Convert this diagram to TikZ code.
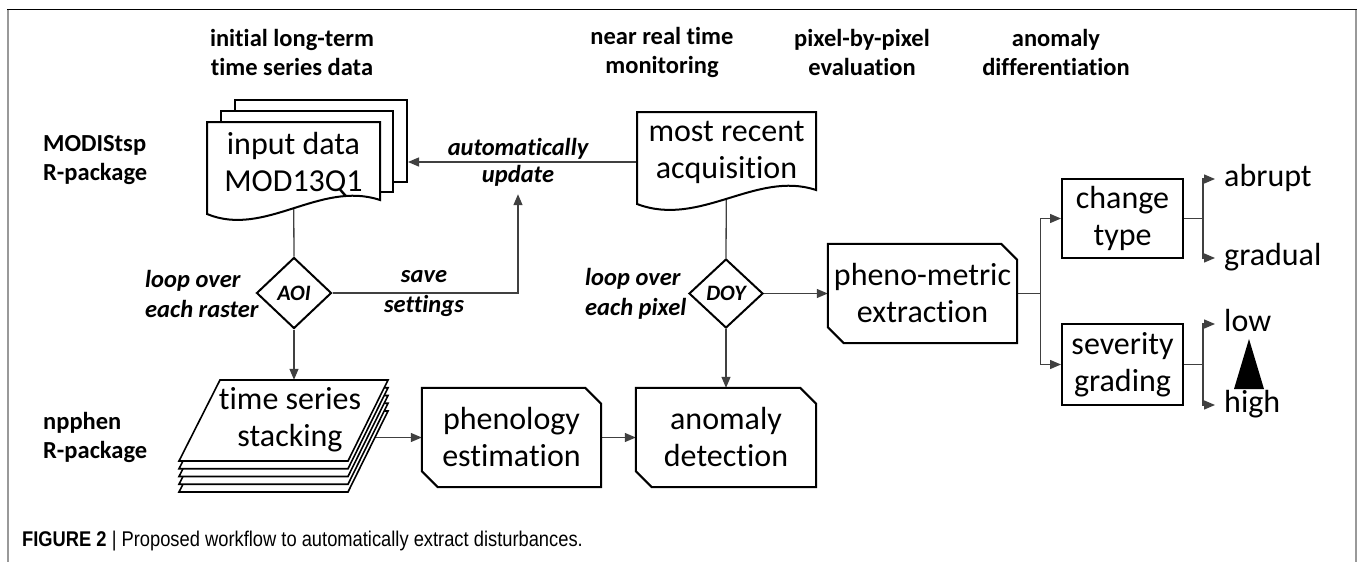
\documentclass[tikz,border=0pt]{standalone}
\usepackage{fontspec}
\setmainfont{Carlito}[Ligatures={NoCommon,NoContextual}]
\newfontfamily\capfont[FakeStretch=0.86]{Liberation Sans}
\usetikzlibrary{arrows.meta,shapes.geometric,backgrounds,positioning}

\tikzset{
  shapeline/.style={draw=black, line width=2pt},
  boxtext/.style={font=\fontsize{32}{37}\selectfont, align=center, inner sep=0pt},
  headtext/.style={font=\fontsize{24.5}{29}\selectfont\bfseries, align=center},
  looptext/.style={font=\fontsize{24.5}{30}\selectfont\bfseries\itshape, align=left, inner sep=0pt},
  decide/.style={diamond, shapeline, fill=white, inner sep=0pt,
    font=\fontsize{22}{22}\selectfont\bfseries\itshape},
  plainbox/.style={boxtext, shapeline, fill=white},
  link/.style={draw=black!75, line width=1.3pt},
  arr/.style={link, -{Triangle[length=11pt,width=9pt]}},
  outcome/.style={font=\fontsize{32}{37}\selectfont, anchor=west, text height=22pt,
    text depth=6.5pt, inner xsep=9pt, inner ysep=0pt}
}

% outline with the upper right and lower left corners cut off
\newcommand\cutframe[1]{%
  \draw[shapeline] ([xshift=-16pt]#1.north east) -- ([yshift=-16pt]#1.north east)
    -- (#1.south east) -- ([xshift=16pt]#1.south west)
    -- ([yshift=16pt]#1.south west) -- (#1.north west) -- cycle;}

\begin{document}
\begin{tikzpicture}[x=1pt, y=-1pt]
  \useasboundingbox (0,0) rectangle (1360,562);
  % panel frame
  \draw[black, line width=1.4pt] (7,9.5) -- (1357,9.5);
  \draw[black!40, line width=2pt] (8,9.5) -- (8,562);
  \draw[black!40, line width=2pt] (1356,9.5) -- (1356,562);

  % column headings
  \node[headtext] (head1) at (292,52.5) {initial long-term\\time series data};
  \node[headtext] (head2) at (662,52.5) {near real time\\monitoring};
  \node[headtext] (head3) at (862,52.5) {pixel-by-pixel\\evaluation};
  \node[headtext] (head4) at (1056,52.5) {anomaly\\differentiation};

  % package names
  \node[headtext, align=left, anchor=west, inner sep=0pt] (pkg1) at (43,160.5) {MODIStsp\\R-package};
  \node[headtext, align=left, anchor=west, inner sep=0pt] (pkg2) at (43,437) {npphen\\R-package};

  % input documents
  \node[shapeline, fill=white, minimum width=172pt, minimum height=82pt] (docC) at (321,141) {};
  \node[shapeline, fill=white, minimum width=172pt, minimum height=81pt] (docB) at (307,151.5) {};
  \draw[shapeline, fill=white] (207,122) -- (380,122) -- (380,200)
    .. controls (320,180) and (265,238) .. (207,214) -- cycle;
  \node[boxtext, minimum width=173pt, minimum height=84pt] (input) at (293.5,164) {input data\\MOD13Q1};

  % newest scene
  \draw[shapeline, fill=white] (637,112) -- (816,112) -- (816,190)
    .. controls (756,170) and (700,228) .. (637,204) -- cycle;
  \node[boxtext] (acq) at (726.5,152.5) {most recent\\acquisition};
  \node[headtext, font=\fontsize{24.5}{27}\selectfont\bfseries\itshape, inner sep=0pt] (autoupd) at (518,162) {automatically\\update};

  % loops
  \node[decide, minimum width=75pt, minimum height=71pt] (aoi) at (294,293) {AOI};
  \node[decide, minimum width=74pt, minimum height=69pt] (doy) at (726,293.5) {DOY};
  \node[looptext, anchor=west] (loop1) at (145,294) {loop over\\each raster};
  \node[looptext, anchor=west] (loop2) at (585,294) {loop over\\each pixel};
  \node[looptext, align=center] (save) at (424,294) {save\\settings};

  % raster stack
  \foreach \k in {4,3,2,1}
    \draw[shapeline, fill=white, line width=1.6pt, shift={(0,7.75*\k)}]
      (220,380) -- (388,380) -- (348,461) -- (179,461) -- cycle;
  \draw[shapeline, fill=white, line width=1.6pt]
    (220,380) -- (388,380) -- (348,461) -- (179,461) -- cycle;
  \node[boxtext, minimum height=80pt] (stack) at (290,420) {time series\\stacking};

  % processing steps
  \node[boxtext, minimum width=179pt, minimum height=99pt] (pheno) at (511.5,437.5) {phenology\\estimation};
  \node[boxtext, minimum width=180pt, minimum height=99pt] (anom) at (726,437.5) {anomaly\\detection};
  \node[boxtext, minimum width=189pt, minimum height=99pt] (metric) at (922.5,293.5) {pheno-metric\\extraction};
  \cutframe{pheno}
  \cutframe{anom}
  \cutframe{metric}

  \node[plainbox, minimum width=121pt, minimum height=79pt] (change) at (1122.5,218.5) {change\\type};
  \node[plainbox, minimum width=121pt, minimum height=81pt] (sever) at (1122.5,364.5) {severity\\grading};

  % classes
  \node[outcome] (abrupt) at (1215,179) {abrupt};
  \node[outcome] (gradual) at (1215,258) {gradual};
  \node[outcome] (low) at (1215,324) {low};
  \node[outcome] (high) at (1215,405) {high};
  \fill (1249,339) -- (1264,389) -- (1234,389) -- cycle;

  % connectors
  \begin{pgfonlayer}{background}
    \draw[link] (input.center) -- (aoi.north);
    \draw[arr] (aoi.south) -- (aoi.south |- stack.north);
    \draw[arr] (aoi.east) -| ([yshift=-8pt]autoupd.south);
    \draw[arr] (acq.center |- autoupd) -- (docC.east |- autoupd);
    \draw[link] (acq.center) -- (doy.north);
    \draw[arr] (doy.south) -- (anom.north);
    \draw[arr] (doy.east) -- (metric.west);
    \draw[arr] (stack.center |- pheno.west) -- (pheno.west);
    \draw[arr] (pheno.east) -- (anom.west);
    \draw[link] (metric.east) -- ++(23,0) coordinate (fork1);
    \draw[arr] (fork1) |- (change.west);
    \draw[arr] (fork1) |- (sever.west);
    \draw[link] (change.east) -- ++(19,0) coordinate (fork2);
    \draw[arr] (fork2) |- (abrupt.west);
    \draw[arr] (fork2) |- (gradual.west);
    \draw[link] (sever.east) -- ++(19,0) coordinate (fork3);
    \draw[arr] (fork3) |- (low.west);
    \draw[arr] (fork3) |- (high.west);
  \end{pgfonlayer}

  % caption
  \node[anchor=west, inner sep=0pt, font=\capfont\fontsize{21.3}{25}\selectfont] (caption) at (22,541)
    {\textbf{FIGURE 2} | Proposed workflow to automatically extract disturbances.};
\end{tikzpicture}
\end{document}
